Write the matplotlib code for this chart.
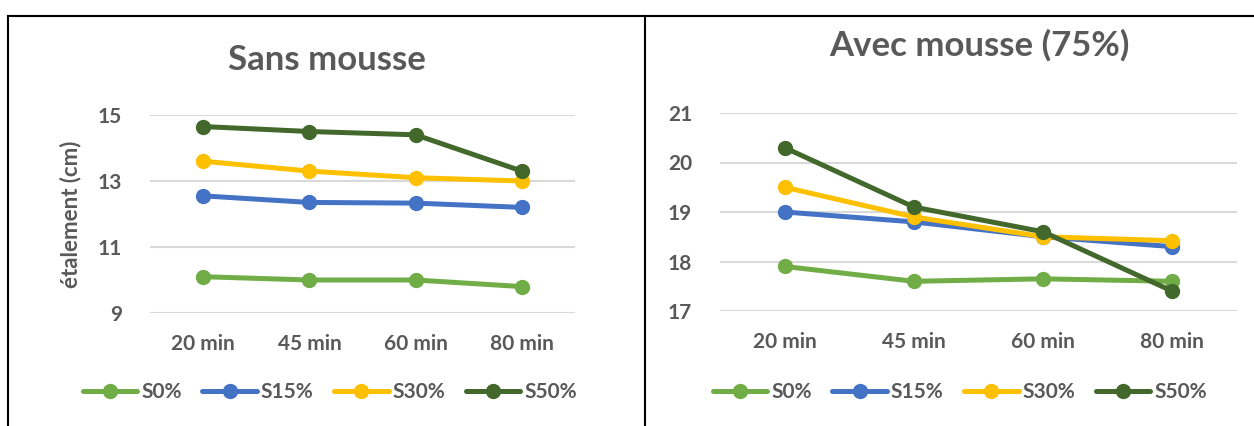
import matplotlib
matplotlib.use("Agg")
import matplotlib.pyplot as plt
from matplotlib.lines import Line2D
import numpy as np

plt.rcParams['font.family'] = ['Lato', 'DejaVu Sans']
plt.rcParams['font.weight'] = 'bold'
plt.rcParams['axes.labelweight'] = 'bold'

# data
categories = ['20 min', '45 min', '60 min', '80 min']
series_names = ['S0%', 'S15%', 'S30%', 'S50%']

sans_s0 = [10.1, 10.0, 10.0, 9.8]
sans_s15 = [12.55, 12.35, 12.33, 12.2]
sans_s30 = [13.6, 13.3, 13.1, 13.0]
sans_s50 = [14.65, 14.5, 14.4, 13.3]

avec_s0 = [17.9, 17.6, 17.65, 17.6]
avec_s15 = [19.0, 18.8, 18.5, 18.3]
avec_s30 = [19.5, 18.9, 18.5, 18.42]
avec_s50 = [20.3, 19.1, 18.6, 17.4]

colors = ['#70AD47', '#4472C4', '#FFC000', '#43682B']
text_col = '#595959'

W, H = 1254, 426
fig = plt.figure(figsize=(W / 100, H / 100), dpi=100)

def px_axes(x0, x1, ytop, ybot):
    return fig.add_axes([x0 / W, 1 - ybot / H, (x1 - x0) / W, (ybot - ytop) / H])

def draw(ax, series, ylim, yticks):
    x = np.arange(len(categories))
    for vals, c, name in zip(series, colors, series_names):
        ax.plot(x, vals, color=c, lw=3.6, marker='o', ms=10, label=name,
                solid_capstyle='round')
    ax.set_xlim(-0.5, len(categories) - 0.5)
    ax.set_ylim(*ylim)
    ax.set_yticks(yticks)
    ax.set_xticks(x)
    ax.set_xticklabels(categories, fontweight='bold')
    ax.set_yticklabels([str(t) for t in yticks], fontweight='bold')
    ax.grid(axis='y', color='#D9D9D9', lw=1.5)
    ax.set_axisbelow(True)
    for s in ax.spines.values():
        s.set_visible(False)
    ax.tick_params(length=0, labelsize=15, colors=text_col)
    ax.tick_params(axis='y', pad=20)
    ax.tick_params(axis='x', pad=15)

ax1 = px_axes(150, 575, 115, 313)
draw(ax1, [sans_s0, sans_s15, sans_s30, sans_s50], (9, 15), [9, 11, 13, 15])
ax1.set_ylabel('étalement (cm)', fontsize=16, color=text_col,
               fontweight='bold', labelpad=12)

ax2 = px_axes(720, 1237, 113, 311)
draw(ax2, [avec_s0, avec_s15, avec_s30, avec_s50], (17, 21), [17, 18, 19, 20, 21])

fig.text(327 / W, 1 - 60 / H, 'Sans mousse', ha='center', va='center',
         fontsize=25, color=text_col, fontweight='bold')
fig.text(979 / W, 1 - 45 / H, 'Avec mousse (75%)', ha='center', va='center',
         fontsize=25, color=text_col, fontweight='bold')

for ax, cx in [(ax1, 330), (ax2, 960)]:
    h, l = ax.get_legend_handles_labels()
    fig.legend(h, l, loc='center', bbox_to_anchor=(cx / W, 1 - 392 / H),
               ncol=4, frameon=False, prop={'size': 15, 'weight': 'bold'},
               handlelength=2.6, columnspacing=1.0, handletextpad=0.2,
               labelcolor=text_col)

# panel borders
for xs, ys in [([8, 645], [16, 16]), ([645, 1254], [16, 16]),
               ([8, 8], [16, 426]), ([645, 645], [16, 426])]:
    fig.add_artist(Line2D([v / W for v in xs], [1 - v / H for v in ys],
                          color='black', lw=1.5, transform=fig.transFigure))

fig.savefig('out.png', dpi=100)
